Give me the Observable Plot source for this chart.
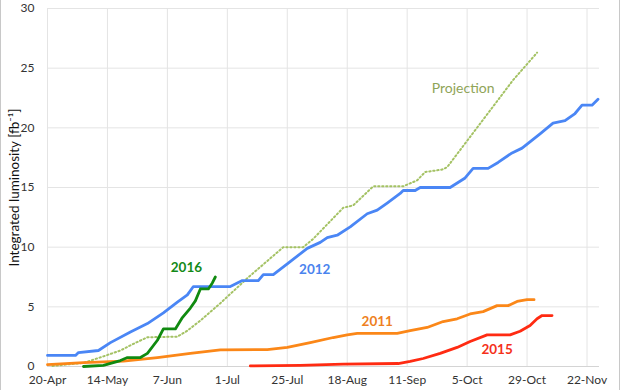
<!DOCTYPE html>
<html><head><meta charset="utf-8">
<script src="https://cdn.jsdelivr.net/npm/d3@7"></script>
<script src="https://cdn.jsdelivr.net/npm/@observablehq/plot@0.6"></script>
<style>
body{margin:0;background:#fff;}
#chart{width:618px;height:390px;border-left:1px solid #c8c8c8;border-right:1px solid #c8c8c8;overflow:hidden;}
</style></head><body><div id="chart"></div>
<script>
// x values: days since 20 April
const tickDays = [0, 24, 48, 72, 96, 120, 144, 168, 192, 216];
const tickLabels = ["20-Apr","14-May","7-Jun","1-Jul","25-Jul","18-Aug","11-Sep","5-Oct","29-Oct","22-Nov"];
const yTicks = [0, 5, 10, 15, 20, 25, 30];

const days2012 = [0, 11.2, 12.4, 20.4, 25.2, 33.2, 40, 46.4, 52, 56, 58.4, 73.2, 78, 84.4, 86.4, 90.4, 96, 104, 109.2, 112, 116, 121.2, 128, 132, 136, 141.2, 142.4, 147.2, 149.2, 161.2, 167.2, 170.4, 176.4, 180.4, 186, 190, 197.2, 202.4, 207.2, 211.2, 214, 218, 220.4];
const lumi2012 = [0.93, 0.93, 1.17, 1.34, 2.0, 2.9, 3.6, 4.5, 5.4, 6.0, 6.7, 6.7, 7.2, 7.2, 7.7, 7.7, 8.6, 9.9, 10.4, 10.8, 11.0, 11.7, 12.8, 13.1, 13.7, 14.5, 14.75, 14.75, 15.0, 15.0, 15.8, 16.6, 16.6, 17.1, 17.9, 18.3, 19.5, 20.4, 20.6, 21.2, 21.9, 21.9, 22.4];

const days2011 = [0, 14.4, 30.4, 44, 57.2, 69.2, 88, 96, 105.2, 114.4, 120, 124, 140, 145.2, 152, 158.4, 164, 169.2, 174.4, 180, 184.4, 188, 192, 194.8];
const lumi2011 = [0.15, 0.33, 0.45, 0.75, 1.1, 1.4, 1.42, 1.6, 2.0, 2.43, 2.65, 2.77, 2.77, 3.0, 3.27, 3.77, 4.0, 4.4, 4.6, 5.1, 5.1, 5.45, 5.6, 5.6];

const days2015 = [81.2, 101.2, 118.4, 140.4, 145.2, 150.4, 157.2, 164, 169.2, 176, 185.2, 189.2, 193.2, 196, 198, 202];
const lumi2015 = [0.05, 0.1, 0.2, 0.25, 0.42, 0.67, 1.1, 1.6, 2.1, 2.65, 2.65, 2.95, 3.44, 4.0, 4.27, 4.27];

const days2016 = [14.4, 22.4, 29.2, 32, 37.2, 40, 44, 46.4, 51.2, 54, 57.2, 59.2, 61.2, 64.4, 66, 67.2];
const lumi2016 = [0, 0.1, 0.5, 0.75, 0.75, 1.1, 2.2, 3.15, 3.15, 4.1, 4.9, 5.5, 6.5, 6.5, 7.0, 7.5];

const daysProj = [2, 14.4, 22.4, 29.2, 34.4, 40, 52, 56, 61.2, 69.2, 80, 94.4, 102.4, 106.4, 118.4, 122.4, 130.4, 142.4, 148, 151.2, 158, 160, 186.4, 196];
const lumiProj = [0.05, 0.3, 0.85, 1.34, 1.9, 2.45, 2.5, 3.0, 3.85, 5.3, 7.4, 10.0, 10.0, 10.7, 13.3, 13.5, 15.1, 15.1, 15.6, 16.3, 16.5, 16.7, 24.0, 26.3];

const labelNames = ["2016", "2012", "2011", "2015"];
const labelDays = [55.6, 107, 132, 180];
const labelLumi = [8.3, 8.1, 3.75, 1.4];
const labelColors = ["#138a18", "#4a83ee", "#ee7f22", "#f5301a"];

const start = new Date(Date.UTC(2016, 3, 20));
const toDate = d => new Date(start.getTime() + d * 86400000);
const series = (days, lumi) => days.map((d, i) => ({date: toDate(d), lumi: lumi[i]}));

const labels = labelNames.map((n, i) => ({name: n, date: toDate(labelDays[i]), lumi: labelLumi[i], color: labelColors[i]}));

const chart = Plot.plot({
  width: 618,
  height: 390,
  marginLeft: 46,
  marginRight: 20,
  marginTop: 8,
  marginBottom: 24,
  style: {fontFamily: "Lato, 'Open Sans', sans-serif", fontSize: "12px", color: "#333", background: "#fff"},
  x: {type: "utc", domain: [toDate(0), toDate(221)]},
  y: {domain: [0, 30]},
  marks: [
    Plot.gridY(yTicks, {stroke: "#e4e4e4", strokeOpacity: 1}),
    Plot.gridX(tickDays.map(toDate), {stroke: "#e4e4e4", strokeOpacity: 1}),
    Plot.ruleY([0], {stroke: "#d4d4d4"}),
    Plot.axisX(tickDays.map(toDate), {tickSize: 0, tickPadding: 9, tickFormat: (d, i) => tickLabels[i], fontSize: 12, label: null}),
    Plot.axisY(yTicks, {tickSize: 0, tickPadding: 13, fontSize: 12, label: "Integrated luminosity [fb⁻¹]", labelAnchor: "center", labelArrow: "none", labelOffset: 38}),
    Plot.line(series(daysProj, lumiProj), {x: "date", y: "lumi", stroke: "#a4c264", strokeWidth: 2, strokeDasharray: "1.4 2.6"}),
    Plot.line(series(days2011, lumi2011), {x: "date", y: "lumi", stroke: "#fb8718", strokeWidth: 2.8}),
    Plot.line(series(days2015, lumi2015), {x: "date", y: "lumi", stroke: "#ff2b12", strokeWidth: 2.8}),
    Plot.line(series(days2012, lumi2012), {x: "date", y: "lumi", stroke: "#4a86f5", strokeWidth: 2.8}),
    Plot.line(series(days2016, lumi2016), {x: "date", y: "lumi", stroke: "#108a10", strokeWidth: 2.8}),
    Plot.text(labels, {x: "date", y: "lumi", text: "name", fill: "color", fontSize: 13.5, fontWeight: "bold"}),
    Plot.text([{date: toDate(166.4), lumi: 23.3, t: "Projection"}], {x: "date", y: "lumi", text: "t", fill: "#8fa458", fontSize: 14})
  ]
});
d3.select(chart).selectAll("text").filter(function() { return this.textContent.startsWith("Integrated"); })
  .attr("font-size", 13.5).attr("fill", "#111").style("fill", "#111");
document.getElementById("chart").appendChild(chart);
</script>
</body></html>
